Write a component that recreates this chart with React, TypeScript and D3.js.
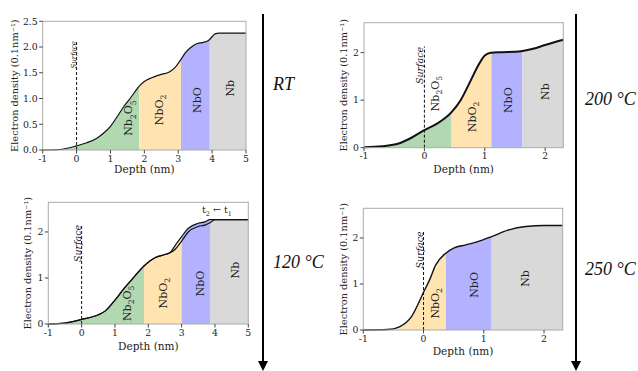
import React from "react";
import * as d3 from "d3";

// depth (nm) and electron density (0.1 nm^-1)
const rtDepth = [-1, -0.5, 0, 0.3, 0.6, 0.8, 1.0, 1.2, 1.4, 1.6, 1.85, 2.0, 2.2, 2.45, 2.75, 2.9, 3.08, 3.2, 3.35, 3.5, 3.65, 3.8, 3.9, 4.0, 4.1, 4.2, 4.5, 5];
const rtDensity = [0, 0.01, 0.08, 0.14, 0.23, 0.33, 0.46, 0.65, 0.85, 1.02, 1.24, 1.33, 1.4, 1.46, 1.52, 1.6, 1.76, 1.88, 1.98, 2.05, 2.08, 2.1, 2.13, 2.2, 2.26, 2.27, 2.27, 2.27];

const t200Depth = [-1, -0.7, -0.4, -0.2, 0, 0.2, 0.45, 0.6, 0.75, 0.9, 1.0, 1.1, 1.3, 1.6, 1.8, 2.0, 2.3];
const t200Density = [0.01, 0.03, 0.1, 0.22, 0.37, 0.5, 0.75, 1.0, 1.37, 1.75, 1.94, 2.0, 2.01, 2.03, 2.08, 2.16, 2.27];

const t120Depth = [-1, -0.5, 0, 0.5, 0.7, 1.0, 1.25, 1.5, 1.87, 2.2, 2.5, 2.65, 2.8, 3.0, 3.2, 3.5, 3.7, 3.85, 4.0, 4.5, 5];
const t120DensityT1 = [0, 0.02, 0.1, 0.2, 0.28, 0.52, 0.75, 0.96, 1.26, 1.44, 1.51, 1.55, 1.62, 1.8, 2.0, 2.12, 2.15, 2.2, 2.27, 2.27, 2.27];
const t120DensityT2 = [0, 0.02, 0.1, 0.2, 0.28, 0.52, 0.75, 0.96, 1.26, 1.44, 1.51, 1.55, 1.7, 1.9, 2.08, 2.19, 2.22, 2.27, 2.27, 2.27, 2.27];

const t250Depth = [-1, -0.6, -0.4, -0.2, 0, 0.1, 0.2, 0.37, 0.5, 0.7, 0.9, 1.13, 1.4, 1.7, 2.0, 2.31];
const t250Density = [0, 0.01, 0.07, 0.29, 0.82, 1.09, 1.41, 1.67, 1.78, 1.85, 1.92, 2.03, 2.17, 2.25, 2.27, 2.27];

// phase names and boundaries (nm)
const phasesRT = ["Nb2O5", "NbO2", "NbO", "Nb"];
const boundsRT = [-1, 1.85, 3.08, 3.93, 5];
const phases200 = ["Nb2O5", "NbO2", "NbO", "Nb"];
const bounds200 = [-1, 0.45, 1.11, 1.62, 2.3];
const phases120 = ["Nb2O5", "NbO2", "NbO", "Nb"];
const bounds120 = [-1, 1.87, 3.0, 3.85, 5];
const phases250 = ["NbO2", "NbO", "Nb"];
const bounds250 = [-1, 0.37, 1.13, 2.31];

// label anchors (depth, density)
const labelsRT = [[1.53, 0.62], [2.44, 0.78], [3.54, 0.97], [4.53, 1.2]];
const labels200 = [[0.18, 1.14], [0.79, 0.65], [1.38, 1.0], [2.0, 1.18]];
const labels120 = [[1.35, 0.45], [2.45, 0.67], [3.55, 0.88], [4.6, 1.17]];
const labels250 = [[0.19, 0.58], [0.83, 0.98], [1.69, 1.12]];

const ticksWide = [-1, 0, 1, 2, 3, 4, 5];
const ticksNarrow = [-1, 0, 1, 2];
const yTicksRT = [0, 0.5, 1.0, 1.5, 2.0, 2.5];
const yTicksInt = [0, 1, 2];

const phaseColor: Record<string, string> = {
  Nb2O5: "#b2d8b2",
  NbO2: "#ffe4b2",
  NbO: "#b2b2ff",
  Nb: "#d9d9d9",
};

const serif = "DejaVu Serif";

function Formula({ s, size }: { s: string; size: number }) {
  const parts = s.split(/(\d)/).filter((p) => p !== "");
  let shifted = false;
  return (
    <>
      {parts.map((p, i) => {
        const isSub = /\d/.test(p);
        let dy: number | undefined = undefined;
        if (isSub && !shifted) { dy = size * 0.28; shifted = true; }
        else if (!isSub && shifted) { dy = -size * 0.28; shifted = false; }
        return (
          <tspan key={i} dy={dy} fontSize={isSub ? size * 0.7 : size}>{p}</tspan>
        );
      })}
    </>
  );
}

function Panel(props: any) {
  const { id, left, right, top, bottom, xMax, yMax, xTicks, yTicks, yFmt, curves, phases, bounds, labels,
    ylabelX, xlabelY, surfCenter, surfTop, surfSize, strokeW } = props;
  const x = d3.scaleLinear().domain([-1, xMax]).range([left, right]);
  const y = d3.scaleLinear().domain([0, yMax]).range([bottom, top]);
  const upper = curves[curves.length - 1];
  const pts = upper.depth.map((d: number, i: number) => [d, upper.density[i]]);
  const area = d3.area<number[]>().x((p) => x(p[0])).y0(y(0)).y1((p) => y(p[1])).curve(d3.curveMonotoneX);
  const line = d3.line<number[]>().x((p) => x(p[0])).y((p) => y(p[1])).curve(d3.curveMonotoneX);
  const fs = 9.3;
  return (
    <g>
      <defs>
        {phases.map((ph: string, i: number) => (
          <clipPath key={ph} id={`${id}-c${i}`}>
            <rect x={x(bounds[i])} y={top} width={x(bounds[i + 1]) - x(bounds[i])} height={bottom - top} />
          </clipPath>
        ))}
      </defs>
      {phases.map((ph: string, i: number) => (
        <path key={ph} d={area(pts) as string} fill={phaseColor[ph]} clipPath={`url(#${id}-c${i})`} />
      ))}
      {curves.map((c: any, k: number) => (
        <path key={k} d={line(c.depth.map((d: number, i: number) => [d, c.density[i]])) as string}
          fill="none" stroke="#111" strokeWidth={strokeW} />
      ))}
      <line x1={x(0)} x2={x(0)} y1={y(0)} y2={y(surfTop)} stroke="#111" strokeWidth={1} strokeDasharray="3,2" />
      <text transform={`translate(${x(0) - 1},${y(surfCenter)}) rotate(-90)`} textAnchor="middle"
        fontFamily={serif} fontStyle="italic" fontSize={surfSize} fill="#222">Surface</text>
      {phases.map((ph: string, i: number) => (
        <text key={ph} transform={`translate(${x(labels[i][0]) + 4},${y(labels[i][1])}) rotate(-90)`}
          textAnchor="middle" fontFamily={serif} fontSize={11} fill="#222">
          <Formula s={ph} size={11} />
        </text>
      ))}
      <rect x={left} y={top} width={right - left} height={bottom - top} fill="none" stroke="#aaa" strokeWidth={1} />
      {xTicks.map((t: number) => (
        <g key={t}>
          <line x1={x(t)} x2={x(t)} y1={bottom} y2={bottom + 3.5} stroke="#444" />
          <text x={x(t)} y={bottom + 11.5} textAnchor="middle" fontFamily={serif} fontSize={fs} fill="#222">{t}</text>
        </g>
      ))}
      {yTicks.map((t: number) => (
        <g key={t}>
          <line x1={left - 3.5} x2={left} y1={y(t)} y2={y(t)} stroke="#444" />
          <text x={left - 5} y={y(t)} dy="0.35em" textAnchor="end" fontFamily={serif} fontSize={fs} fill="#222">{yFmt(t)}</text>
        </g>
      ))}
      <text x={(left + right) / 2} y={xlabelY} textAnchor="middle" fontFamily={serif} fontSize={10.5} fill="#222">Depth (nm)</text>
      <text transform={`translate(${ylabelX},${(top + bottom) / 2}) rotate(-90)`} textAnchor="middle" dy="0.35em"
        fontFamily={serif} fontSize={9.8} fill="#222">Electron density (0.1nm⁻¹)</text>
    </g>
  );
}

function Arrow({ x, y1, y2 }: { x: number; y1: number; y2: number }) {
  return (
    <g>
      <line x1={x} x2={x} y1={y1} y2={y2 - 8} stroke="#000" strokeWidth={2} />
      <path d={`M${x - 5},${y2 - 10} L${x + 5},${y2 - 10} L${x},${y2} Z`} fill="#000" />
    </g>
  );
}

export default function App() {
  const f1 = d3.format(".1f");
  const f0 = d3.format("d");
  const temp = { fontFamily: "Liberation Serif", fontStyle: "italic" as const, fontSize: 18, fill: "#111" };
  return (
    <svg width={638} height={371} style={{ position: "absolute", left: 0, top: 0, background: "#fff" }}>
      <Panel id="p1" left={42.7} right={246} top={21.3} bottom={150} xMax={5} yMax={2.5}
        xTicks={ticksWide} yTicks={yTicksRT} yFmt={f1}
        curves={[{ depth: rtDepth, density: rtDensity }]}
        phases={phasesRT} bounds={boundsRT} labels={labelsRT}
        ylabelX={15} xlabelY={173} surfCenter={1.85} surfTop={2.1} surfSize={7} strokeW={1.2} />
      <Panel id="p2" left={364} right={563.3} top={22.7} bottom={147.7} xMax={2.3} yMax={2.63}
        xTicks={ticksNarrow} yTicks={yTicksInt} yFmt={f0}
        curves={[{ depth: t200Depth, density: t200Density }]}
        phases={phases200} bounds={bounds200} labels={labels200}
        ylabelX={344} xlabelY={173} surfCenter={1.73} surfTop={2.13} surfSize={9.5} strokeW={2} />
      <Panel id="p3" left={48.3} right={248.3} top={202.3} bottom={324} xMax={5} yMax={2.645}
        xTicks={ticksWide} yTicks={yTicksInt} yFmt={f0}
        curves={[{ depth: t120Depth, density: t120DensityT1 }, { depth: t120Depth, density: t120DensityT2 }]}
        phases={phases120} bounds={bounds120} labels={labels120}
        ylabelX={28} xlabelY={350} surfCenter={1.75} surfTop={2.15} surfSize={9.5} strokeW={1.2} />
      <Panel id="p4" left={363.3} right={562.7} top={208.3} bottom={330} xMax={2.31} yMax={2.645}
        xTicks={ticksNarrow} yTicks={yTicksInt} yFmt={f0}
        curves={[{ depth: t250Depth, density: t250Density }]}
        phases={phases250} bounds={bounds250} labels={labels250}
        ylabelX={344} xlabelY={355} surfCenter={1.74} surfTop={2.14} surfSize={9.5} strokeW={1.4} />
      <text x={217} y={213} textAnchor="middle" fontFamily={serif} fontSize={9.5} fill="#222">
        t<tspan dy={2.5} fontSize={6.5}>2</tspan><tspan dy={-2.5}> ← t</tspan><tspan dy={2.5} fontSize={6.5}>1</tspan>
      </text>
      <Arrow x={263} y1={14} y2={371} />
      <Arrow x={576} y1={14} y2={371} />
      <text x={273} y={90} {...temp}>RT</text>
      <text x={585} y={105} {...temp}>200 °C</text>
      <text x={273} y={268} {...temp}>120 °C</text>
      <text x={585} y={275} {...temp}>250 °C</text>
    </svg>
  );
}
